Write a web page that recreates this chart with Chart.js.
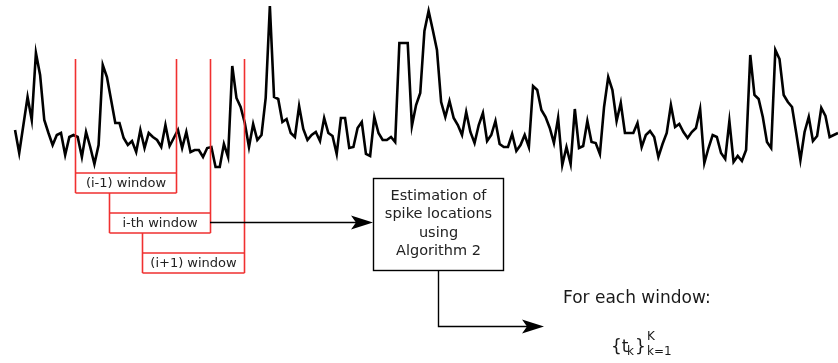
<!DOCTYPE html>
<html lang="en">
<head>
    <meta charset="UTF-8">
    <title>Sliding windows</title>
    <style>
        body {
            margin: 0;
            background-color: #ffffff;
        }
        canvas {
            display: block;
        }
    </style>
    <script src="https://cdn.jsdelivr.net/npm/chart.js"></script>
</head>
<body>

<canvas id="myChart" width="838" height="363"></canvas>

<script>
    // signal amplitude per sample
    const signalValues = [
        40, 17, 45, 73, 50, 117, 95, 50, 37, 25, 35, 37, 15, 33, 35, 33, 13, 38, 23, 6,
        25, 105, 93, 70, 47, 47, 32, 25, 29, 18, 40, 22, 37, 33, 30, 23, 45, 24, 32, 40,
        22, 38, 18, 20, 20, 13, 22, 23, 3, 3, 26, 13, 104, 72, 63, 47, 23, 46, 30, 35,
        72, 164, 73, 71, 48, 51, 37, 33, 64, 41, 30, 35, 38, 29, 52, 37, 34, 16, 52, 52,
        22, 23, 42, 48, 16, 14, 53, 37, 30, 30, 33, 28, 127, 127, 127, 44, 65, 77, 139, 159,
        140, 120, 68, 53, 69, 52, 45, 35, 58, 38, 27, 45, 57, 29, 35, 49, 26, 23, 23, 36,
        19, 25, 35, 23, 84, 80, 60, 53, 42, 27, 52, 5, 23, 6, 61, 22, 24, 49, 28, 27,
        16, 63, 93, 80, 49, 67, 37, 37, 37, 47, 23, 35, 39, 33, 13, 26, 37, 65, 43, 46,
        38, 32, 38, 42, 61, 7, 22, 35, 33, 17, 11, 49, 8, 14, 9, 20, 115, 75, 71, 53,
        28, 22, 120, 111, 75, 68, 63, 37, 10, 38, 53, 29, 34, 62, 54, 33, 35, 37
    ];
    const sampleIndex = signalValues.map((_, i) => i);

    // the three sliding windows, in sample units
    const windowLabels = ['(i-1) window', 'i-th window', '(i+1) window'];
    const windowStarts = [14.4, 22.5, 30.4];
    const windowEnds = [38.6, 46.7, 54.8];

    const boxLines = ['Estimation of', 'spike locations', 'using', 'Algorithm 2'];
    const outputTitle = 'For each window:';

    // arrow head like the inkscape one
    function arrowHead(ctx, x, y) {
        ctx.beginPath();
        ctx.moveTo(x, y);
        ctx.lineTo(x - 22, y - 7);
        ctx.lineTo(x - 17, y);
        ctx.lineTo(x - 22, y + 7);
        ctx.closePath();
        ctx.fill();
    }

    const diagramPlugin = {
        id: 'diagram',
        afterDraw(chart) {
            const ctx = chart.ctx;
            const xs = chart.scales.x;
            ctx.save();

            // red windows
            ctx.strokeStyle = '#f03030';
            ctx.lineWidth = 1.6;
            ctx.font = '13px "DejaVu Sans"';
            ctx.textAlign = 'center';
            ctx.textBaseline = 'middle';
            const topY = 59;
            for (let w = 0; w < windowLabels.length; w++) {
                const x0 = Math.round(xs.getPixelForValue(windowStarts[w])) + 0.5;
                const x1 = Math.round(xs.getPixelForValue(windowEnds[w])) + 0.5;
                const boxTop = 173 + w * 40;
                const boxBot = boxTop + 20;
                const leftTop = w === 0 ? topY : boxTop - 20;
                ctx.beginPath();
                ctx.moveTo(x0, leftTop);
                ctx.lineTo(x0, boxBot);
                ctx.moveTo(x1, topY);
                ctx.lineTo(x1, boxBot);
                ctx.moveTo(x0, boxTop);
                ctx.lineTo(x1, boxTop);
                ctx.moveTo(x0, boxBot);
                ctx.lineTo(x1, boxBot);
                ctx.stroke();
                ctx.fillStyle = '#222222';
                ctx.fillText(windowLabels[w], (x0 + x1) / 2, boxTop + 10.5);
            }

            // arrow from i-th window to the box
            ctx.strokeStyle = '#000000';
            ctx.fillStyle = '#000000';
            ctx.lineWidth = 1.4;
            const midX1 = Math.round(xs.getPixelForValue(windowEnds[1]));
            ctx.beginPath();
            ctx.moveTo(midX1, 222.5);
            ctx.lineTo(360, 222.5);
            ctx.stroke();
            arrowHead(ctx, 373, 222.5);

            // algorithm box
            ctx.lineWidth = 1.4;
            ctx.strokeRect(373.5, 178.5, 130, 92);
            ctx.fillStyle = '#222222';
            ctx.font = '14.5px "DejaVu Sans"';
            boxLines.forEach((t, i) => ctx.fillText(t, 438.5, 196 + i * 18.5));

            // arrow to output
            ctx.fillStyle = '#000000';
            ctx.beginPath();
            ctx.moveTo(438.5, 271);
            ctx.lineTo(438.5, 326.5);
            ctx.lineTo(530, 326.5);
            ctx.stroke();
            arrowHead(ctx, 544, 326.5);

            // output text
            ctx.fillStyle = '#1a1a1a';
            ctx.textAlign = 'left';
            ctx.textBaseline = 'alphabetic';
            ctx.font = '17px "DejaVu Sans"';
            ctx.fillText(outputTitle, 563, 303);
            ctx.font = '17px "DejaVu Sans"';
            ctx.fillText('{t', 611, 352);
            ctx.font = '12px "DejaVu Sans"';
            ctx.fillText('k', 627, 355);
            ctx.font = '17px "DejaVu Sans"';
            ctx.fillText('}', 635, 352);
            ctx.font = '12px "DejaVu Sans"';
            ctx.fillText('K', 647, 340);
            ctx.fillText('k=1', 647, 355);

            ctx.restore();
        }
    };

    const config = {
        type: 'line',
        data: {
            labels: sampleIndex,
            datasets: [{
                label: 'Signal',
                data: signalValues.map((v, i) => ({x: sampleIndex[i], y: v})),
                borderColor: '#000000',
                borderWidth: 2.6,
                pointRadius: 0,
                tension: 0,
                borderJoinStyle: 'miter',
                fill: false,
                clip: false,
            }]
        },
        options: {
            responsive: false,
            animation: false,
            layout: {padding: 0},
            plugins: {
                legend: {display: false},
                tooltip: {enabled: false},
            },
            scales: {
                x: {
                    type: 'linear',
                    display: false,
                    min: -3.6,
                    max: 197,
                },
                y: {
                    display: false,
                    min: -193,
                    max: 170,
                }
            }
        },
        plugins: [diagramPlugin]
    };

    const myChart = new Chart(document.getElementById('myChart'), config);
</script>

</body>
</html>
